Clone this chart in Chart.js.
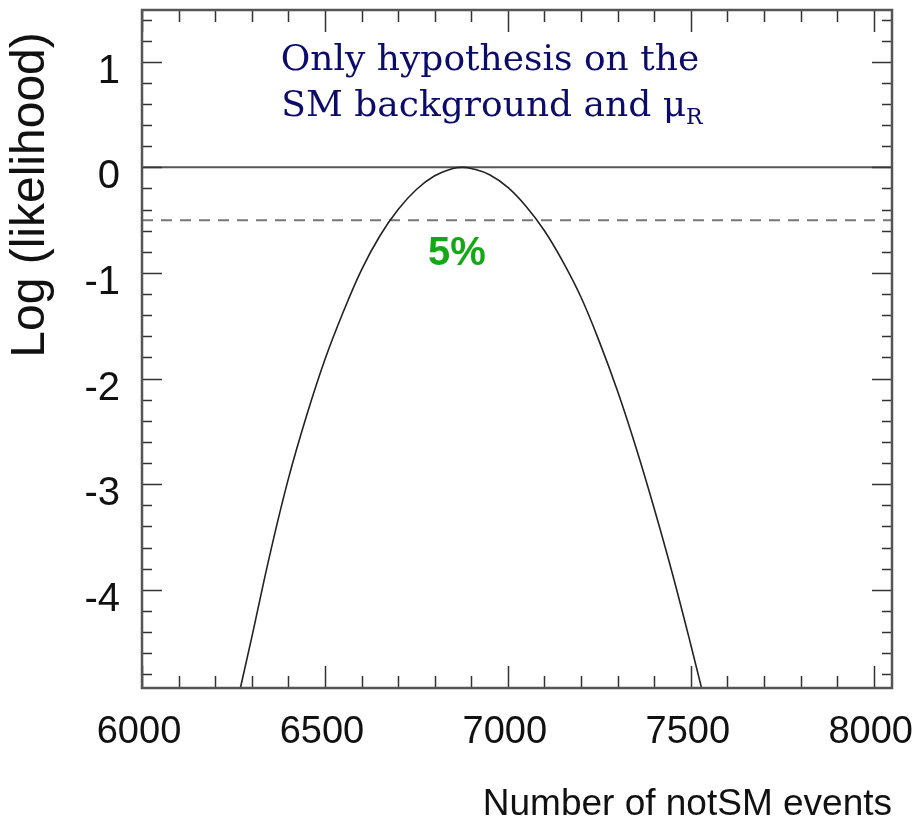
<!DOCTYPE html>
<html>
<head>
<meta charset="utf-8">
<title>Log likelihood vs number of notSM events</title>
<script src="https://cdn.jsdelivr.net/npm/chart.js@4.4.1/dist/chart.umd.min.js"></script>
<style>
  body { margin: 0; background: #fff; }
  canvas { display: block; }
</style>
</head>
<body>
<canvas id="llChart" width="915" height="824"></canvas>
<script>

// Curve
const eventCounts = [6250, 6300, 6350, 6400, 6450, 6500, 6550, 6600, 6650, 6700, 6750, 6800, 6850, 6877,
    6900, 6950, 7000, 7050, 7100, 7150, 7200, 7250, 7300, 7350, 7400, 7450, 7500, 7550];
const logLikelihood = [-5.22, -4.45, -3.66, -2.95, -2.35, -1.82, -1.37, -0.97, -0.65, -0.40, -0.21, -0.08, -0.01, 0,
    -0.01, -0.07, -0.19, -0.37, -0.60, -0.89, -1.23, -1.65, -2.12, -2.65, -3.23, -3.85, -4.52, -5.22];

// Horizontal reference lines
const lineEnds = [6000, 8050];
const maxLevel = [0, 0];
const cutLevel = [-0.5, -0.5];

// Axes
const xTickValues = [6000, 6500, 7000, 7500, 8000];
const yTickValues = [-4, -3, -2, -1, 0, 1];

const sansFont = "'Liberation Sans', Arial, Helvetica, sans-serif";

function toPoints(xs, ys) {
    return xs.map((v, i) => ({ x: v, y: ys[i] }));
}

// keep the plot box where the picture has it
function noScalePadding(scale) {
    scale.paddingTop = 0;
    scale.paddingBottom = 0;
    scale.paddingLeft = 0;
    scale.paddingRight = 0;
}


// Frame, inward ticks and the text on the plot
const framePlugin = {

    id: "frame",

    afterDatasetsDraw(chart) {

        const { ctx, chartArea: a } = chart;
        const xs = chart.scales.x;
        const ys = chart.scales.y;

        ctx.save();

        // ticks on x (bottom + top)
        ctx.strokeStyle = "#333";
        ctx.lineWidth = 1.5;
        for (let k = 60; k <= 80; k++) {
            const v = k * 100;
            const px = Math.round(xs.getPixelForValue(v)) + 0.5;
            const len = xTickValues.includes(v) ? 22 : 12;
            ctx.beginPath();
            ctx.moveTo(px, a.bottom);
            ctx.lineTo(px, a.bottom - len);
            ctx.moveTo(px, a.top);
            ctx.lineTo(px, a.top + len);
            ctx.stroke();
        }

        // ticks on y (left + right)
        for (let k = Math.ceil(ys.min / 0.2); k <= Math.floor(ys.max / 0.2); k++) {
            const v = k * 0.2;
            const py = Math.round(ys.getPixelForValue(v)) + 0.5;
            const len = k % 5 === 0 ? 20 : 10;
            ctx.beginPath();
            ctx.moveTo(a.left, py);
            ctx.lineTo(a.left + len, py);
            ctx.moveTo(a.right, py);
            ctx.lineTo(a.right - len, py);
            ctx.stroke();
        }

        // frame
        ctx.strokeStyle = "#555";
        ctx.lineWidth = 2.5;
        ctx.strokeRect(a.left, a.top, a.right - a.left, a.bottom - a.top);

        // note in the top of the plot
        ctx.fillStyle = "#0b0b6b";
        ctx.font = "36px 'DejaVu Serif', serif";
        ctx.textAlign = "center";
        ctx.textBaseline = "alphabetic";
        ctx.fillText("Only hypothesis on the", 490, 70);

        const line2 = "SM background and \u03bc";
        const w2 = ctx.measureText(line2).width;
        ctx.font = "22px 'DejaVu Serif', serif";
        const wSub = ctx.measureText("R").width;
        const start = 492 - (w2 + wSub) / 2;
        ctx.textAlign = "left";
        ctx.font = "36px 'DejaVu Serif', serif";
        ctx.fillText(line2, start, 116);
        ctx.font = "22px 'DejaVu Serif', serif";
        ctx.fillText("R", start + w2, 124);

        // 5% label
        ctx.fillStyle = "#14a814";
        ctx.font = "bold 40px " + sansFont;
        ctx.textAlign = "center";
        ctx.fillText("5%", 457, 265);

        // axis titles
        ctx.fillStyle = "#111";
        ctx.font = "37px " + sansFont;
        ctx.textAlign = "right";
        ctx.fillText("Number of notSM events", 892, 815);

        ctx.translate(44, 195);
        ctx.rotate(-Math.PI / 2);
        ctx.textAlign = "center";
        ctx.font = "48px " + sansFont;
        ctx.fillText("Log (likelihood)", 0, 0);

        ctx.restore();
    }
};


// Create Chart

const ctx = document.getElementById("llChart").getContext("2d");

const llChart = new Chart(ctx, {

    type: "line",

    data: {
        datasets: [
            {
                label: "log likelihood",
                data: toPoints(eventCounts, logLikelihood),
                borderColor: "#222",
                borderWidth: 1.6,
                pointRadius: 0,
                tension: 0.4,
                fill: false
            },
            {
                label: "maximum",
                data: toPoints(lineEnds, maxLevel),
                borderColor: "#555",
                borderWidth: 2,
                pointRadius: 0
            },
            {
                label: "cut",
                data: toPoints(lineEnds, cutLevel),
                borderColor: "#777",
                borderWidth: 2,
                borderDash: [11, 8],
                pointRadius: 0
            }
        ]
    },

    options: {

        responsive: false,
        animation: false,

        layout: {
            autoPadding: false,
            padding: { top: 10, right: 23, left: 0, bottom: 0 }
        },

        plugins: {
            legend: { display: false },
            tooltip: { enabled: false }
        },

        scales: {

            x: {
                type: "linear",
                min: 6000,
                max: 8050,
                grid: { display: false, drawTicks: false },
                border: { display: false },
                afterBuildTicks: scale => {
                    scale.ticks = xTickValues.map(v => ({ value: v }));
                },
                afterFit: scale => {
                    scale.height = 136;
                    noScalePadding(scale);
                },
                ticks: {
                    color: "#111",
                    padding: 22,
                    labelOffset: -3,
                    maxRotation: 0,
                    callback: v => String(v),
                    font: { family: sansFont, size: 38 }
                }
            },

            y: {
                min: -4.93,
                max: 1.49,
                grid: { display: false, drawTicks: false },
                border: { display: false },
                afterBuildTicks: scale => {
                    scale.ticks = yTickValues.map(v => ({ value: v }));
                },
                afterFit: scale => {
                    scale.width = 142;
                    noScalePadding(scale);
                },
                ticks: {
                    color: "#111",
                    padding: 22,
                    labelOffset: 10,
                    callback: v => String(v),
                    font: { family: sansFont, size: 40 }
                }
            }
        }
    },

    plugins: [framePlugin]

});

</script>
</body>
</html>
